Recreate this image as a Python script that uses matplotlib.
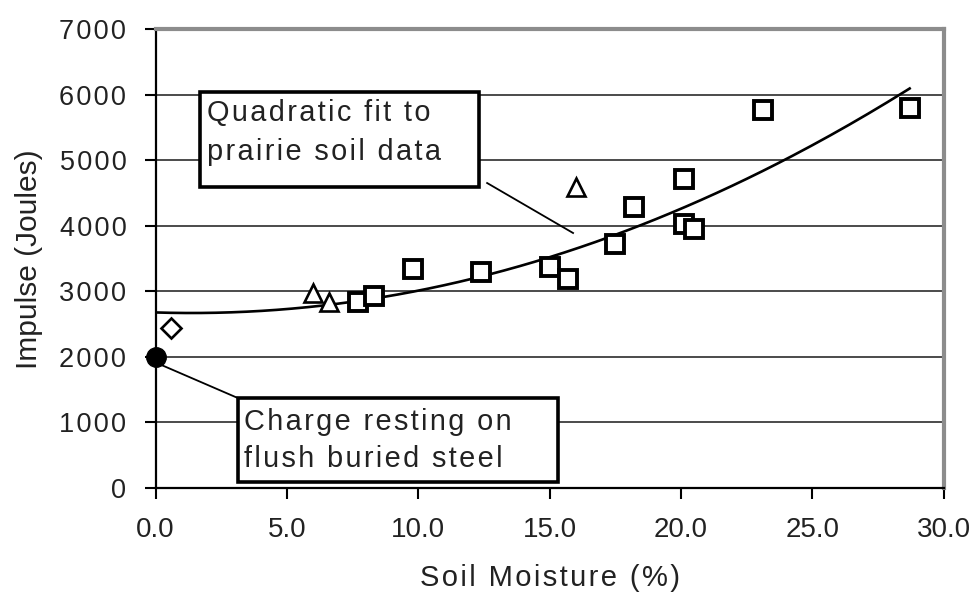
import numpy as np
import matplotlib
matplotlib.use("Agg")
import matplotlib.pyplot as plt
from matplotlib.patches import Rectangle

plt.rcParams['font.family'] = ['Liberation Sans', 'DejaVu Sans']

# Prairie soil tests (squares)
prairie_x = [7.7, 8.3, 9.8, 12.4, 15.0, 15.7, 17.5, 18.2, 20.1, 20.1, 20.5, 23.1, 28.7]
prairie_y = [2835, 2925, 3350, 3290, 3370, 3185, 3720, 4285, 4710, 4025, 3950, 5775, 5795]

# Other soil tests (triangles)
other_x = [6.0, 6.6, 16.0]
other_y = [2970, 2835, 4600]

# Dry soil test (diamond)
dry_x = [0.6]
dry_y = [2450]

# Charge on flush buried steel (filled circle)
steel_x = [0.0]
steel_y = [2000]

# Quadratic fit coefficients: a + b*x + c*x^2
fit_a, fit_b, fit_c = 2680.0, -12.6, 4.59
fit_range = (0.0, 28.7)

x_ticks = [0.0, 5.0, 10.0, 15.0, 20.0, 25.0, 30.0]
y_ticks = [0, 1000, 2000, 3000, 4000, 5000, 6000, 7000]

HAIR = "\u200a"


def spaced(s, gap=HAIR):
    """Widen the letter tracking of a string."""
    return gap.join(s)


fig = plt.figure(figsize=(9.72, 5.92), dpi=100)
ax = fig.add_axes([0.160, 0.1757, 0.811, 0.7745])

ax.set_xlim(0, 30)
ax.set_ylim(0, 7000)

# gridlines
for yv in y_ticks[1:-1]:
    ax.axhline(yv, color='#1a1a1a', lw=1.1, zorder=1)

# fit curve
xf = np.linspace(fit_range[0], fit_range[1], 200)
yf = fit_a + fit_b * xf + fit_c * xf ** 2
ax.plot(xf, yf, color='black', lw=1.9, zorder=3)

ax.plot(prairie_x, prairie_y, ls='none', marker='s', ms=12.5, mfc='white',
        mec='black', mew=2.8, zorder=4, clip_on=False)
ax.plot(other_x, other_y, ls='none', marker='^', ms=13.5, mfc='white',
        mec='black', mew=1.9, zorder=4, clip_on=False)
ax.plot(dry_x, dry_y, ls='none', marker='D', ms=10, mfc='white',
        mec='black', mew=1.9, zorder=4, clip_on=False)
ax.plot(steel_x, steel_y, ls='none', marker='o', ms=14, mfc='black',
        mec='black', zorder=5, clip_on=False)

# leader lines
ax.plot([12.62, 15.89], [4656, 3893], color='black', lw=1.3, zorder=3)
ax.plot([0.05, 3.13], [1908, 1374], color='black', lw=1.3, zorder=3)

# annotation boxes: (corner, width, height, lines, text x, baselines)
boxes = [
    ((0.0562, 0.6565), 0.4103 - 0.0562, 0.8637 - 0.6565,
     ["Quadratic fit to", "prairie soil data"], 0.0655, [0.8004, 0.7154]),
    ((0.1045, 0.0131), 0.5106 - 0.1045, 0.1963 - 0.0131,
     ["Charge resting on", "flush buried steel"], 0.1125, [0.1265, 0.0458]),
]
for (x0, y0), w, h, lines, tx, ys in boxes:
    ax.add_patch(Rectangle((x0, y0), w, h, transform=ax.transAxes,
                           facecolor='white', edgecolor='black', lw=2.6, zorder=6))
    for txt, yy in zip(lines, ys):
        ax.text(tx, yy, spaced(txt), transform=ax.transAxes,
                fontsize=20.8, color='#222222', va='baseline', ha='left', zorder=7)

# spines
ax.spines['left'].set_color('black')
ax.spines['left'].set_linewidth(1.6)
ax.spines['bottom'].set_color('black')
ax.spines['bottom'].set_linewidth(1.6)
ax.spines['top'].set_color('#8c8c8c')
ax.spines['top'].set_linewidth(3)
ax.spines['right'].set_color('#8c8c8c')
ax.spines['right'].set_linewidth(3)

ax.set_xticks(x_ticks)
ax.set_xticklabels([f"{v:.1f}" for v in x_ticks])
ax.set_yticks(y_ticks)
ax.set_yticklabels([spaced(str(v)) for v in y_ticks])
ax.tick_params(axis='both', direction='out', length=8, width=1.5, color='black',
               labelcolor='#222222')
ax.tick_params(axis='x', pad=13, labelsize=20)
ax.tick_params(axis='y', pad=13, labelsize=19.5)

ax.set_xlabel(spaced("Soil Moisture (%)"), fontsize=21, color='#222222',
              labelpad=15)
ax.set_ylabel("Impulse (Joules)", fontsize=21.5, color='#222222', labelpad=12)

fig.savefig("out.png", dpi=100, facecolor='white')
